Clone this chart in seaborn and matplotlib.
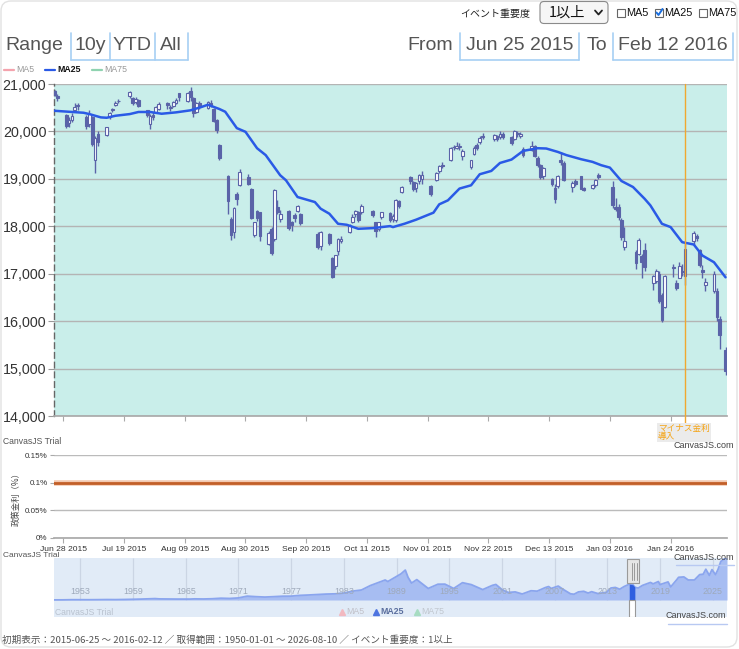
import numpy as np
import pandas as pd
import seaborn as sns
import matplotlib
matplotlib.use('Agg')
from matplotlib import pyplot as plt
from matplotlib import font_manager
from matplotlib.patches import Rectangle, FancyBboxPatch
import matplotlib.dates as mdates
import matplotlib.ticker as mticker

# ---- Nikkei 225 daily candles, 2015-06-25 .. 2016-02-12 ----
holidays = ['2015-07-20', '2015-09-21', '2015-09-22', '2015-09-23', '2015-10-12',
            '2015-11-03', '2015-11-23', '2015-12-23', '2015-12-31', '2016-01-01',
            '2016-01-11', '2016-02-11']

opens = [20850, 20750, 20340, 20180,
         20240, 20450, 20560, 20300, 20150, 20300, 19390, 19950, 19920, 20300, 20450,
         20550, 20640, 20750, 20700, 20620, 20660, 20450, 20150, 20350, 20400, 20480,
         20600, 20500, 20540, 20600, 20800, 20650, 20850, 20700, 20420, 20600, 20500,
         20600, 20480, 20250, 19720, 19070, 18160, 17870, 18680, 18880, 19030,
         18780, 17820, 18330, 18300, 17630, 17950, 17740, 18400, 18150, 18330, 18080,
         18245, 18330, 18265, 17840, 17590, 17840, 17340, 17165,
         17480, 17700, 17880, 18100, 18250, 18300, 18300, 18330, 18080, 17950, 18200,
         18270, 18150, 18140, 18530, 18720, 19040, 18930, 18800, 18950, 19000,
         18850, 18970, 19170, 19300, 19400, 19680, 19650, 19680, 19480, 19250, 19530,
         19720, 19780, 19900, 19850, 19900, 19880, 19950, 19880,
         19850, 19970, 19900, 19620, 19600, 19700, 19430, 19300, 19050, 19000, 18800,
         18850, 19400, 19330, 18830, 18960, 19050, 18800, 18800, 18870, 19080,
         18820, 18400, 18400, 18140, 17560, 17450, 17420, 17380, 17500, 16800, 16850,
         17000, 16550, 16300, 17140, 16810, 16920, 17060, 16960,
         17700, 17800, 17500, 17080, 16760, 16640, 16640, 16040, 15400]
highs = [20868, 20780, 20360, 20300,
         20380, 20600, 20600, 20350, 20450, 20330, 19900, 20000, 20100, 20420, 20500,
         20640, 20680, 20850, 20720, 20720, 20680, 20460, 20360, 20400, 20540, 20620,
         20620, 20560, 20640, 20700, 20810, 20830, 20946, 20720, 20620, 20650, 20640,
         20670, 20500, 20270, 19730, 19080, 18200, 18400, 18720, 19200, 19100,
         18800, 18100, 18350, 18310, 17900, 17980, 18790, 18550, 18350, 18350, 18120,
         18280, 18450, 18290, 17870, 17900, 17860, 17360, 17400,
         17750, 17800, 18050, 18250, 18350, 18330, 18460, 18350, 18100, 18100, 18300,
         18300, 18260, 18580, 18560, 18850, 19060, 18960, 18930, 19100, 19160,
         18860, 19140, 19300, 19360, 19680, 19720, 19770, 19750, 19640, 19400, 19700,
         19750, 19900, 19960, 19950, 19930, 20000, 19990, 19900,
         20040, 20000, 19980, 19680, 19800, 19720, 19480, 19320, 19250, 19020, 18900,
         19080, 19560, 19370, 18950, 18990, 19060, 18830, 18900, 19000, 19120,
         18950, 18600, 18470, 18170, 17975, 17500, 17760, 17420, 17650, 16980, 17100,
         17050, 16600, 16980, 17200, 16860, 17250, 17200, 17660,
         17900, 17830, 17520, 17180, 16900, 17050, 16700, 16100, 15450]
lows = [20740, 20650, 20070, 20100,
        20200, 20400, 20450, 20050, 20100, 19700, 19115, 19700, 19900, 20260, 20400,
        20530, 20600, 20700, 20550, 20580, 20520, 20300, 20060, 20250, 20380, 20450,
        20480, 20430, 20520, 20580, 20650, 20620, 20650, 20300, 20380, 20480, 20480,
        20520, 20200, 19960, 19400, 18250, 17720, 17750, 18450, 18850, 18860,
        18150, 17770, 18120, 17680, 17600, 17400, 17700, 18250, 18100, 17920, 17900,
        18100, 18300, 18020, 17530, 17500, 17600, 16900, 17100,
        17400, 17650, 17850, 18060, 18200, 18080, 18250, 18190, 17780, 17900, 18150,
        18100, 18080, 18100, 18380, 18700, 18900, 18740, 18720, 18900, 18900,
        18640, 18950, 19130, 19220, 19380, 19600, 19630, 19600, 19400, 19200, 19500,
        19600, 19740, 19830, 19800, 19800, 19850, 19850, 19720,
        19820, 19880, 19870, 19460, 19580, 19460, 19250, 19000, 18990, 18850, 18500,
        18800, 19300, 18950, 18720, 18850, 18780, 18740, 18780, 18830, 18990,
        18390, 18330, 18130, 17720, 17510, 17100, 17400, 16900, 17050, 16650, 16800,
        16380, 15990, 16280, 16940, 16650, 16900, 16950, 16760,
        17600, 17680, 17150, 16900, 16640, 16600, 16000, 15410, 14865]
closes = [20771, 20706, 20110, 20236,
          20329, 20522, 20539, 20112, 20376, 19737, 19855, 19780, 20089, 20385, 20463,
          20600, 20650, 20841, 20593, 20683, 20544, 20350, 20329, 20302, 20522, 20585,
          20548, 20520, 20614, 20664, 20724, 20808, 20720, 20392, 20595, 20519, 20620,
          20554, 20222, 20033, 19435, 18540, 17806, 18376, 18574, 19136, 18890,
          18165, 18095, 18182, 17792, 17860, 17427, 18770, 18299, 18264, 17965, 18026,
          18171, 18432, 18070, 17571, 17880, 17645, 16930, 17388,
          17722, 17725, 18005, 18186, 18322, 18141, 18438, 18234, 17891, 18097, 18291,
          18131, 18207, 18554, 18435, 18825, 18947, 18777, 18903, 19083, 19083,
          18683, 19116, 19265, 19265, 19642, 19671, 19697, 19691, 19596, 19393, 19649,
          19649, 19859, 19879, 19924, 19847, 19944, 19883, 19747,
          20012, 19938, 19939, 19504, 19698, 19492, 19301, 19047, 19230, 18883, 18565,
          19050, 19353, 18986, 18916, 18886, 18789, 18769, 18873, 18982, 19033,
          18450, 18374, 18191, 17767, 17697, 17218, 17715, 17240, 17147, 16955, 17048,
          16416, 16017, 16958, 17110, 16708, 17163, 17041, 17518,
          17865, 17750, 17191, 17044, 16819, 17004, 16085, 15713, 14952]

# ---- MA25 ----
ma_dates = ['2015-06-25', '2015-07-05', '2015-07-07', '2015-07-11', '2015-07-13', '2015-07-16',
            '2015-07-21', '2015-07-24', '2015-07-28', '2015-08-01', '2015-08-06', '2015-08-11',
            '2015-08-15', '2015-08-17', '2015-08-21', '2015-08-23', '2015-08-27', '2015-08-30',
            '2015-09-03', '2015-09-06', '2015-09-11', '2015-09-13', '2015-09-17', '2015-09-23',
            '2015-09-25', '2015-09-28', '2015-10-01', '2015-10-04', '2015-10-08', '2015-10-13',
            '2015-10-19', '2015-10-20', '2015-10-24', '2015-10-28', '2015-11-03', '2015-11-05',
            '2015-11-08', '2015-11-12', '2015-11-16', '2015-11-19', '2015-11-23', '2015-11-26',
            '2015-11-30', '2015-12-04', '2015-12-09', '2015-12-12', '2015-12-16', '2015-12-19',
            '2015-12-24', '2015-12-28', '2015-12-31', '2016-01-03', '2016-01-07', '2016-01-11',
            '2016-01-15', '2016-01-17', '2016-01-21', '2016-01-24', '2016-01-28', '2016-02-01',
            '2016-02-04', '2016-02-08', '2016-02-12']
ma_vals = [20435, 20394, 20366, 20296, 20288, 20330, 20366, 20410, 20410, 20373, 20402, 20445,
           20520, 20563, 20472, 20415, 20070, 19992, 19646, 19500, 19076, 18970, 18617, 18511,
           18371, 18265, 18053, 18032, 17947, 17961, 18004, 17983, 18054, 18139, 18287, 18463,
           18547, 18795, 18864, 19097, 19167, 19335, 19407, 19589, 19646, 19640, 19568, 19500,
           19415, 19358, 19288, 19237, 18955, 18828, 18581, 18441, 18053, 17983, 17665, 17616,
           17383, 17242, 16924]

# ---- policy rate (%) ----
rate_dates = ['2015-06-01', '2015-09-01', '2015-12-01', '2016-02-29']
rate_vals = [0.1, 0.1, 0.1, 0.1]

event_date = '2016-01-29'
event_label = 'マイナス金利\n導入'

# ---- navigator: long history ----
nav_years = [1950.0, 1951, 1952, 1953, 1954, 1955, 1956, 1957, 1958, 1959, 1960, 1961.5, 1962,
             1963, 1964, 1965.5, 1966, 1967, 1968, 1969, 1970, 1971, 1972, 1973, 1974, 1975,
             1976, 1977, 1978, 1979, 1980, 1981, 1982, 1983, 1984, 1985, 1986, 1987.7, 1988,
             1988.9, 1989.5, 1989.99, 1990.3, 1990.7, 1991.3, 1992.6, 1993.7, 1994.5, 1995.5,
             1996.5, 1997.5, 1998.8, 1999.9, 2000.3, 2001, 2001.7, 2002.5, 2003.3, 2004.3, 2005,
             2005.9, 2006.3, 2006.6, 2007.4, 2008, 2008.8, 2009.2, 2009.7, 2010.3, 2010.8,
             2011.2, 2011.9, 2012.9, 2013.4, 2013.9, 2014.4, 2014.9, 2015.48, 2015.5, 2015.9,
             2016.1, 2016.12, 2016.5, 2017, 2017.9, 2018.2, 2018.8, 2018.98, 2019.9, 2020.2,
             2020.9, 2021.1, 2021.7, 2022.2, 2022.9, 2023.5, 2023.9, 2024.2, 2024.6, 2024.9,
             2025.3, 2025.6, 2025.9, 2026.61]
nav_vals = [110, 160, 360, 350, 340, 420, 550, 480, 650, 900, 1200, 1800, 1400, 1300, 1200,
            1200, 1450, 1300, 1600, 2300, 2000, 2700, 5000, 4300, 3800, 4300, 4900, 5000, 6000,
            6500, 7100, 7700, 8000, 9000, 11500, 13000, 18700, 26000, 24000, 30000, 34000,
            38900, 29500, 22000, 26500, 15000, 20500, 20600, 15000, 22500, 20000, 13500, 19000,
            20200, 13500, 9800, 10500, 7800, 12000, 11500, 16000, 17500, 15000, 18100, 13500,
            8000, 7500, 10500, 11300, 9000, 10800, 8400, 10000, 15600, 16300, 14000, 17500,
            20500, 20600, 19800, 17000, 16500, 15500, 19000, 22800, 21000, 24000, 20000, 23500,
            17000, 26500, 29500, 30000, 26000, 26000, 33000, 33500, 40000, 32000, 39500, 33000,
            40000, 50000, 56000]
nav_label_years = [1953, 1959, 1965, 1971, 1977, 1983, 1989, 1995, 2001, 2007, 2013, 2019, 2025]
sel_start, sel_end = 2015.48, 2016.12

footer = '初期表示：2015-06-25 〜 2016-02-12 ／ 取得範囲：1950-01-01 〜 2026-08-10 ／ イベント重要度：1以上'

# ---- style ----
sns.set_theme(style='white')


def has_font(name):
    try:
        font_manager.findfont(name, fallback_to_default=False)
        return True
    except Exception:
        return False


latin = 'Liberation Sans' if has_font('Liberation Sans') else 'DejaVu Sans'
plt.rcParams['font.family'] = [latin, 'Noto Sans CJK JP', 'DejaVu Sans']
jp = ['Noto Sans CJK JP', latin, 'DejaVu Sans']
# taller, narrower face for the big header text and the price axis, if present
if has_font('Liberation Sans Narrow'):
    narrow, big_size, ytick_size = 'Liberation Sans Narrow', 16, 12
else:
    narrow, big_size, ytick_size = latin, 14, 10.3

W, H = 739, 649


def box(x0, y0, x1, y1):
    return [x0 / W, 1 - y1 / H, (x1 - x0) / W, (y1 - y0) / H]


fig = plt.figure(figsize=(W / 100, H / 100), dpi=100)
fig.patch.set_facecolor('white')

days = pd.bdate_range('2015-06-25', '2016-02-12')
days = days[~days.isin(pd.to_datetime(holidays))]
o, h, l, c = map(np.array, (opens, highs, lows, closes))
x_lo, x_hi = pd.Timestamp('2015-06-24 19:00'), pd.Timestamp('2016-02-12 12:00')
tick_dates = pd.date_range('2015-06-28', '2016-02-12', freq='21D')
candle_c = '#5a63a8'

# ---- main candle chart ----
ax = fig.add_axes(box(54, 84, 727, 416))
ax.set_facecolor('#c9eeea')
ax.set_axisbelow(True)
ax.grid(axis='y', color='#b4b4b4', lw=1)
ax.vlines(days, l, h, color=candle_c, lw=1, zorder=3)
up = c >= o
ax.bar(days, np.abs(c - o), bottom=np.minimum(o, c), width=0.95,
       color=np.where(up, 'white', candle_c), edgecolor=candle_c, linewidth=0.8, zorder=4)
sns.lineplot(x=pd.to_datetime(ma_dates), y=ma_vals, ax=ax, color='#2a5ae6', lw=1.8,
             legend=False, zorder=5)
ax.axvline(pd.Timestamp(event_date), ymin=-0.025, ymax=1, color='#f0a830', lw=1,
           clip_on=False, zorder=6)
ax.set_xlim(x_lo, x_hi)
ax.set_ylim(14000, 21000)
ax.set_yticks(range(14000, 21001, 1000))
ax.yaxis.set_major_formatter(mticker.StrMethodFormatter('{x:,.0f}'))
ax.set_xticks(tick_dates)
ax.set_xticklabels([])
ax.set_xlabel('')
ax.set_ylabel('')
for s in ('top', 'right'):
    ax.spines[s].set_visible(False)
ax.spines['left'].set_linestyle((0, (4, 3)))
ax.spines['left'].set_color('#666666')
ax.spines['left'].set_linewidth(1)
ax.spines['bottom'].set_color('#aaaaaa')
ax.tick_params(axis='y', left=True, length=4, width=0.8, color='#999999',
               labelsize=ytick_size, labelcolor='#333333', pad=1.5)
for t in ax.get_yticklabels():
    t.set_family(narrow)
ax.tick_params(axis='x', bottom=True, length=3.5, width=0.8, color='#aaaaaa')

# ---- policy rate panel ----
ar = fig.add_axes(box(54, 455, 727, 538))
ar.set_facecolor('white')
ar.set_axisbelow(True)
ar.grid(axis='y', color='#bbbbbb', lw=1)
sns.lineplot(x=pd.to_datetime(rate_dates), y=rate_vals, ax=ar, color='#f3c9b0', lw=4,
             legend=False, zorder=3)
sns.lineplot(x=pd.to_datetime(rate_dates), y=rate_vals, ax=ar, color='#c25f28', lw=2,
             legend=False, zorder=4)
ar.set_xlim(x_lo, x_hi)
ar.set_ylim(0, 0.15)
ar.set_yticks([0, 0.05, 0.1, 0.15])
ar.set_yticklabels(['0%', '0.05%', '0.1%', '0.15%'])
ar.set_xticks(tick_dates)
ar.xaxis.set_major_formatter(mdates.DateFormatter('%b %d %Y'))
ar.set_xlabel('')
ar.set_ylabel('政策金利（%）', family=jp, fontsize=6, color='#444444', labelpad=3)
for s in ('top', 'right', 'left'):
    ar.spines[s].set_visible(False)
ar.spines['bottom'].set_color('#aaaaaa')
ar.tick_params(axis='y', left=True, length=3, width=0.8, color='#aaaaaa',
               labelsize=5.8, labelcolor='#333333', pad=1.5)
ar.tick_params(axis='x', bottom=True, length=3.5, width=0.8, color='#aaaaaa',
               labelsize=6.1, labelcolor='#333333', pad=2)

# ---- navigator ----
px_val = 1300
an = fig.add_axes(box(54, 558, 727, 617))
an.set_facecolor('#e1ebf7')
an.vlines(nav_label_years, 0, 42 * px_val, color='#cbd5e4', lw=0.9, zorder=1)
an.fill_between(nav_years, 0, nav_vals, color='#a7bdf2', lw=0, zorder=2)
sns.lineplot(x=nav_years, y=nav_vals, ax=an, color='#8aa5ee', lw=1.3, legend=False, zorder=3)
sel = [(yy, vv) for yy, vv in zip(nav_years, nav_vals) if sel_start <= yy <= sel_end]
an.fill_between([p[0] for p in sel], 0, [p[1] for p in sel], color='#2f5fe0', lw=0, zorder=4)
an.add_patch(Rectangle((sel_start, -17 * px_val), sel_end - sel_start, 17 * px_val,
                       fc='white', ec='#999999', lw=0.8, zorder=4))
for yy in nav_label_years:
    an.text(yy, 8 * px_val, str(yy), ha='center', va='center', fontsize=6.4,
            color='#9ea9ba', zorder=5)
an.text(1950.1, -12.5 * px_val, 'CanvasJS Trial', fontsize=6.2, color='#b9c2cf',
        va='center', ha='left')
an.set_xlim(1950.0, 2026.61)
an.set_ylim(-17 * px_val, 42 * px_val)
an.set_xticks([])
an.set_yticks([])
an.set_xlabel('')
an.set_ylabel('')
for s in an.spines.values():
    s.set_visible(False)

# ---- overlay in pixel coordinates ----
ui = fig.add_axes([0, 0, 1, 1], zorder=10)
ui.set_xlim(0, W)
ui.set_ylim(H, 0)
ui.axis('off')

ui.add_patch(FancyBboxPatch((1, 1), W - 3, H - 3, boxstyle='round,pad=0,rounding_size=10',
                            fc='none', ec='#e2e2e2', lw=1))

# top-right controls
ui.text(460, 13.5, 'イベント重要度', family=jp, fontsize=7.2, color='#222222',
        va='center', ha='left')
ui.add_patch(FancyBboxPatch((540, 1.5), 68, 22, boxstyle='round,pad=0,rounding_size=4',
                            fc='#f6f6f6', ec='#8a8a8a', lw=0.8))
ui.text(549, 13, '1以上', family=jp, fontsize=10.3, color='#111111', va='center', ha='left')
ui.plot([595, 598.5, 602], [10.5, 14.5, 10.5], color='#222222', lw=1.3)
for bx, lab, checked in [(617, 'MA5', False), (655, 'MA25', True), (699, 'MA75', False)]:
    ui.add_patch(Rectangle((bx, 8.5), 8, 8, fc='white', ec='#666666', lw=0.8))
    if checked:
        ui.plot([bx + 1.5, bx + 3.5, bx + 7.5], [12.5, 15, 9], color='#1a6fe0', lw=1.4)
    ui.text(bx + 9.5, 13, lab, fontsize=7.8, color='#111111', va='center', ha='left')

# range selector row
big = dict(fontsize=big_size, family=narrow, color='#555555', va='center')
ui.text(5, 46, 'Range', ha='left', **big)
ui.text(90.4, 46, '10y', ha='center', **big)
ui.text(132.4, 46, 'YTD', ha='center', **big)
ui.text(171.2, 46, 'All', ha='center', **big)
ui.text(430, 46, 'From', ha='center', **big)
ui.text(519.5, 46, 'Jun 25 2015', ha='center', **big)
ui.text(597, 46, 'To', ha='center', **big)
ui.text(672.7, 46, 'Feb 12 2016', ha='center', **big)
blue_b = '#a7d0f3'
for xs in ([70.8, 110, 154.7, 187.7], [460, 579], [613, 732.5]):
    for xv in xs:
        ui.plot([xv, xv], [33, 59.5], color=blue_b, lw=1.2)
    ui.plot([xs[0], xs[-1]], [59.5, 59.5], color=blue_b, lw=1.2)

# MA legend row
for x0, col, lab, bold, tcol in [(4, '#f4a3ad', 'MA5', False, '#999999'),
                                 (45, '#2a5ae6', 'MA25', True, '#111111'),
                                 (92, '#8fd3b0', 'MA75', False, '#999999')]:
    ui.plot([x0, x0 + 9.5], [70, 70], color=col, lw=1.6)
    ui.text(x0 + 12.5, 70, lab, fontsize=6.3, color=tcol, va='center', ha='left',
            fontweight='bold' if bold else 'normal')

# watermarks and credits
ui.text(3, 442, 'CanvasJS Trial', fontsize=6.2, color='#555555', va='center', ha='left')
ui.text(3, 555.5, 'CanvasJS Trial', fontsize=6, color='#555555', va='center', ha='left')
for xr, yc in [(733.5, 445), (733.5, 557), (726, 616)]:
    ui.text(xr, yc, 'CanvasJS.com', fontsize=6.5, color='#444444', va='center', ha='right')
for xa, xb, yl in [(676, 734, 565), (668, 727, 624)]:
    ui.plot([xa, xb], [yl, yl], color='#b8c9f2', lw=1)

# event label under the main chart
ui.text(658, 432.5, event_label, family=jp, fontsize=6.2, color='#f5a312', va='center',
        ha='left', linespacing=1.0,
        bbox=dict(boxstyle='square,pad=0.1', fc='#ebebeb', ec='none'))

# navigator handles
ui.add_patch(Rectangle((627, 559), 12, 24, fc='#e6e6e6', ec='#9a9a9a', lw=0.8))
for xv in (632, 634, 636.5):
    ui.plot([xv, xv], [563, 580], color='#9a9a9a', lw=0.7)

# navigator legend
for x0, col, lab, tcol in [(339, '#f2b9c0', 'MA5', '#c0c0c8'),
                           (373, '#4d74e0', 'MA25', '#5a6e9e'),
                           (414, '#a7dcc2', 'MA75', '#c0c6ce')]:
    ui.plot([x0 + 2.5], [612], marker='^', ms=4.5, color=col, mec=col)
    ui.text(x0 + 7, 612, lab, fontsize=6.3, color=tcol, va='center', ha='left',
            fontweight='bold' if lab == 'MA25' else 'normal')

# footer
ui.text(2, 640, footer, family=jp, fontsize=6.9, color='#555555', va='center', ha='left')

fig.savefig('out.png', dpi=100, facecolor='white')
